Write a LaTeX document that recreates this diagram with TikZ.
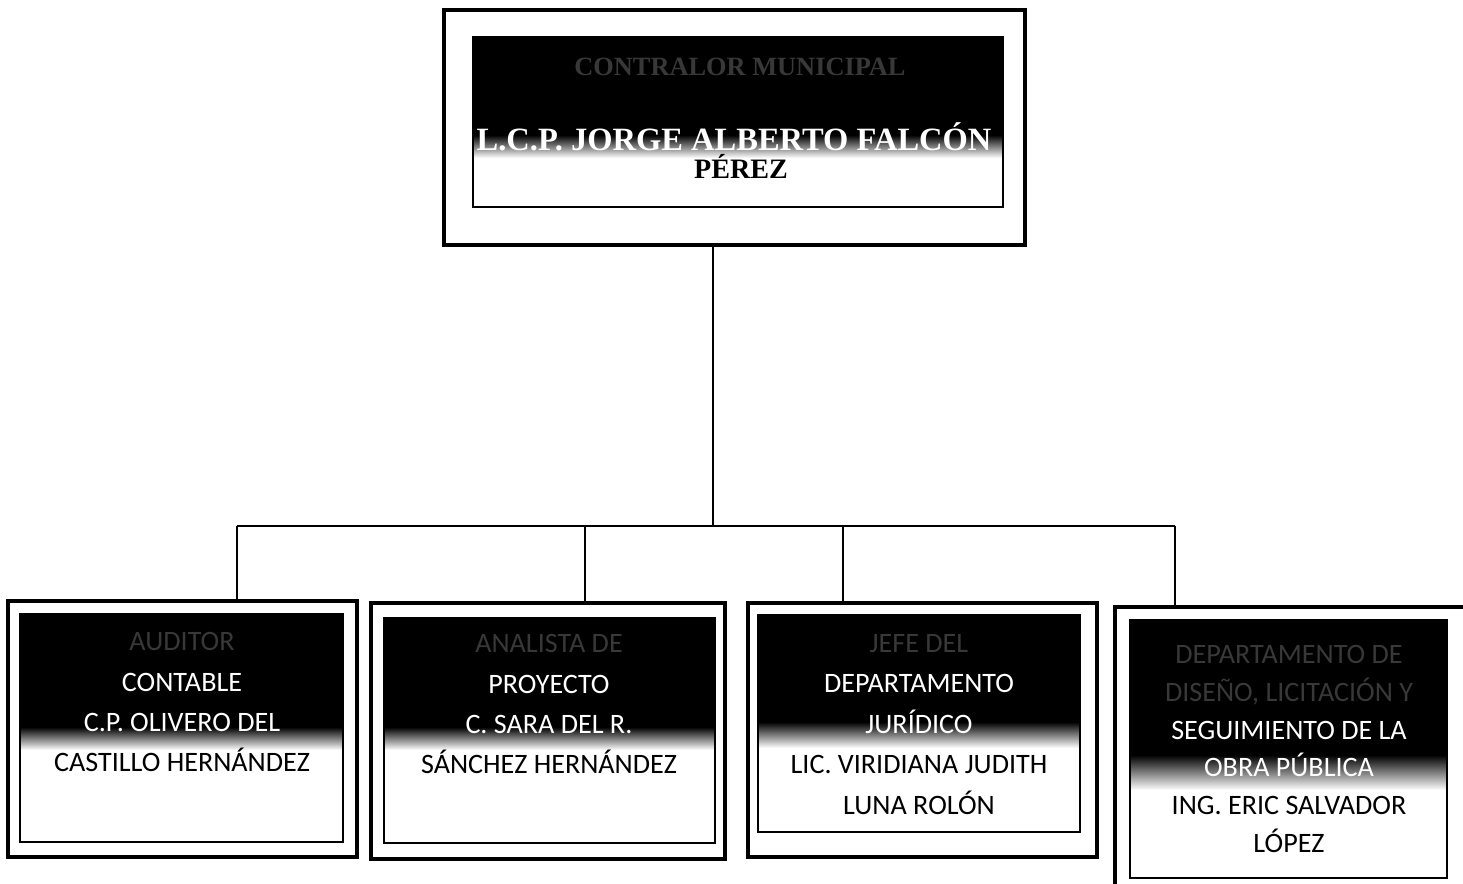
\documentclass[tikz,border=0pt]{standalone}
\usepackage{fontspec}
\setmainfont{Liberation Serif}
\newfontfamily\boxfont{Carlito}
\usetikzlibrary{positioning}

\begin{document}
\begin{tikzpicture}[
    x=0.02cm, y=-0.02cm,
    outerbox/.style={draw, line width=2pt, inner sep=0pt},
    innerbox/.style={draw, line width=0.9pt},
    fadeband/.style={top color=black, bottom color=white},
    headtext/.style={font=\bfseries\fontsize{16}{19}\selectfont, inner sep=0pt},
    boxtext/.style={font=\boxfont\fontsize{16}{23}\selectfont, align=center, anchor=north, inner sep=0pt, text=white},
    faint/.style={text=black!78},
    link/.style={draw, line width=0.8pt}
]
\clip (0,0) rectangle (1463,884);
\fill[white] (0,0) rectangle (1463,884);

% top box
\fill[black] (473,37) rectangle (1003,135);
\shade[fadeband] (473,135) rectangle (1003,158);
\draw[innerbox] (473,37) rectangle (1003,207);
\node (top) [outerbox, minimum width=11.62cm, minimum height=4.70cm] at (734.5,127.5) {};
\node (title) [headtext, faint, font=\bfseries\fontsize{15}{18}\selectfont] at (740,67) {CONTRALOR MUNICIPAL};
\node (name) [headtext, text=white, font=\bfseries\fontsize{18.5}{22}\selectfont] at (734,137) {L.C.P. JORGE ALBERTO FALCÓN};
\node (surname) [headtext] at (741,166) {PÉREZ};

% lower boxes
\fill[black] (20,614) rectangle (343,727);
\shade[fadeband] (20,727) rectangle (343,750);
\draw[innerbox] (20,614) rectangle (343,842);
\node (b1) [outerbox, minimum width=6.98cm, minimum height=5.12cm] at (182.5,729) {};
\node (t1) [boxtext] at (182,632) {{\color{black!78}AUDITOR}\\CONTABLE\\C.P. OLIVERO DEL\\{\color{black}CASTILLO HERNÁNDEZ}};

\fill[black] (384,618) rectangle (715,727);
\shade[fadeband] (384,727) rectangle (715,750);
\draw[innerbox] (384,618) rectangle (715,843);
\node (b2) [outerbox, minimum width=7.08cm, minimum height=5.12cm] at (548,731) {};
\node (t2) [boxtext] at (549,634) {{\color{black!78}ANALISTA DE}\\PROYECTO\\C. SARA DEL R.\\{\color{black}SÁNCHEZ HERNÁNDEZ}};

\fill[black] (758,615) rectangle (1080,722);
\shade[fadeband] (758,722) rectangle (1080,748);
\draw[innerbox] (758,615) rectangle (1080,832);
\node (b3) [outerbox, minimum width=6.98cm, minimum height=5.08cm] at (922.5,730) {};
\node (t3) [boxtext] at (919,634) {{\color{black!78}JEFE DEL}\\DEPARTAMENTO\\JURÍDICO\\{\color{black}LIC. VIRIDIANA JUDITH}\\{\color{black}LUNA ROLÓN}};

\fill[black] (1130,620) rectangle (1447,755);
\shade[fadeband] (1130,755) rectangle (1447,790);
\draw[innerbox] (1130,620) rectangle (1447,878);
\node (b4) [outerbox, minimum width=7.02cm, minimum height=5.86cm] at (1290.5,753.5) {};
\node (t4) [boxtext, font=\boxfont\fontsize{16}{21.5}\selectfont] at (1289,645) {{\color{black!78}DEPARTAMENTO DE}\\{\color{black!78}DISEÑO, LICITACIÓN Y}\\SEGUIMIENTO DE LA\\OBRA PÚBLICA\\{\color{black}ING. ERIC SALVADOR}\\{\color{black}LÓPEZ}};

% connectors
\coordinate (hub) at (713,526);
\coordinate (d1) at (237,526);
\coordinate (d2) at (585,526);
\coordinate (d3) at (843,526);
\coordinate (d4) at (1175,526);
\path[link] (hub |- top.south) -- (hub);
\path[link] (d1) -- (d4);
\path[link] (d1) -- (d1 |- b1.north);
\path[link] (d2) -- (d2 |- b2.north);
\path[link] (d3) -- (d3 |- b3.north);
\path[link] (d4) -- (d4 |- b4.north);
\end{tikzpicture}
\end{document}
